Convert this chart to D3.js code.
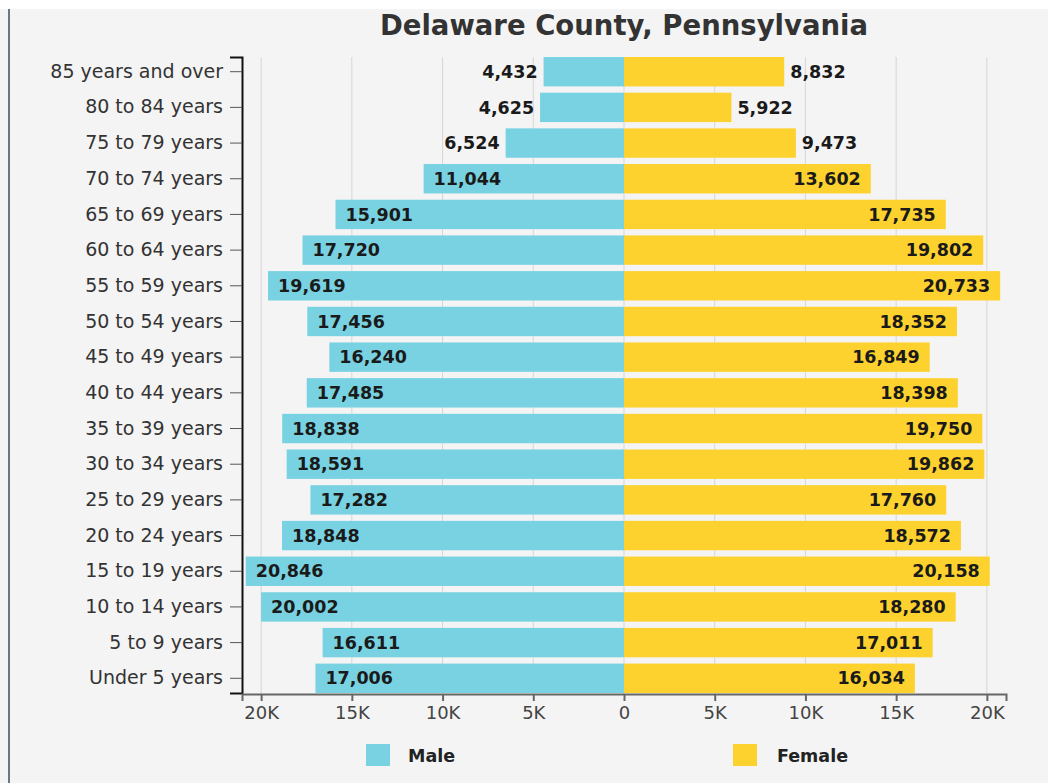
<!DOCTYPE html>
<html>
<head>
<meta charset="utf-8">
<script src="https://cdn.jsdelivr.net/npm/d3@7"></script>
<style>
  html, body { margin: 0; padding: 0; background: #ffffff; }
  svg { display: block; }
</style>
</head>
<body>
<svg id="chart" width="1048" height="783"></svg>
<script>
const ageGroups = ["85 years and over","80 to 84 years","75 to 79 years","70 to 74 years","65 to 69 years","60 to 64 years","55 to 59 years","50 to 54 years","45 to 49 years","40 to 44 years","35 to 39 years","30 to 34 years","25 to 29 years","20 to 24 years","15 to 19 years","10 to 14 years","5 to 9 years","Under 5 years"];
const maleValues = [4432,4625,6524,11044,15901,17720,19619,17456,16240,17485,18838,18591,17282,18848,20846,20002,16611,17006];
const femaleValues = [8832,5922,9473,13602,17735,19802,20733,18352,16849,18398,19750,19862,17760,18572,20158,18280,17011,16034];
const tickValues = [-20000,-15000,-10000,-5000,0,5000,10000,15000,20000];
const tickLabels = ["20K","15K","10K","5K","0","5K","10K","15K","20K"];
const seriesNames = ["Male","Female"];
const titleText = "Delaware County, Pennsylvania";

const svg = d3.select("#chart");
const W = 1048, H = 783;
const colors = { Male: "#78d2e2", Female: "#fdd22e" };
const fontFam = "'DejaVu Sans', sans-serif";

// background
svg.append("rect").attr("x",0).attr("y",9).attr("width",W).attr("height",H-9).attr("fill","#f4f4f4");
svg.append("rect").attr("x",8).attr("y",9).attr("width",2).attr("height",H-9).attr("fill","#6d7680");

const maxV = d3.max(maleValues.concat(femaleValues));
const x = d3.scaleLinear().domain([-maxV*1.01, maxV*1.01]).range([242, 1006]);
const y = d3.scaleBand().domain(ageGroups).range([57, 693]).paddingInner(0.176).paddingOuter(0);

// title
svg.append("text").attr("x", x(0)).attr("y", 35).attr("text-anchor","middle")
  .attr("font-family", fontFam).attr("font-weight","bold").attr("font-size", 27.5)
  .attr("fill","#333").text(titleText);

// gridlines
svg.append("g").selectAll("line").data(tickValues).join("line")
  .attr("x1", d => x(d)).attr("x2", d => x(d))
  .attr("y1", 57).attr("y2", 694)
  .attr("stroke","#d6d6d6").attr("stroke-width",1);

const rows = ageGroups.map((g,i) => ({g, m: maleValues[i], f: femaleValues[i]}));

// bars
svg.append("g").selectAll("rect").data(rows).join("rect")
  .attr("x", d => x(-d.m)).attr("width", d => x(0) - x(-d.m))
  .attr("y", d => y(d.g)).attr("height", y.bandwidth())
  .attr("fill", colors.Male);
svg.append("g").selectAll("rect").data(rows).join("rect")
  .attr("x", x(0)).attr("width", d => x(d.f) - x(0))
  .attr("y", d => y(d.g)).attr("height", y.bandwidth())
  .attr("fill", colors.Female);

const fmt = d3.format(",");
const inside = v => v >= 10000;

// labels
svg.append("g").selectAll("text").data(rows).join("text")
  .attr("x", d => inside(d.m) ? x(-d.m) + 10 : x(-d.m) - 6)
  .attr("text-anchor", d => inside(d.m) ? "start" : "end")
  .attr("y", d => y(d.g) + y.bandwidth()/2).attr("dy","0.35em")
  .attr("font-family", fontFam).attr("font-weight","bold").attr("font-size",17.5)
  .attr("fill","#1a1a1a").text(d => fmt(d.m));
svg.append("g").selectAll("text").data(rows).join("text")
  .attr("x", d => inside(d.f) ? x(d.f) - 10 : x(d.f) + 6)
  .attr("text-anchor", d => inside(d.f) ? "end" : "start")
  .attr("y", d => y(d.g) + y.bandwidth()/2).attr("dy","0.35em")
  .attr("font-family", fontFam).attr("font-weight","bold").attr("font-size",17.5)
  .attr("fill","#1a1a1a").text(d => fmt(d.f));

// y axis
const yAxis = svg.append("g").attr("transform","translate(242,0)")
  .call(d3.axisLeft(y).tickSize(12).tickPadding(7));
yAxis.selectAll("text").attr("font-family", fontFam).attr("font-size",19).attr("fill","#333");
yAxis.selectAll("line").attr("stroke","#555");
yAxis.select(".domain").attr("stroke","#111").attr("stroke-width",2);

// x axis
const xAxis = svg.append("g").attr("transform","translate(0,694)")
  .call(d3.axisBottom(x).tickValues(tickValues).tickFormat((d,i) => tickLabels[i]).tickSize(7).tickPadding(5));
xAxis.selectAll("text").attr("font-family", fontFam).attr("font-size",18).attr("fill","#444");
xAxis.selectAll("line").attr("stroke","#666").attr("stroke-width",2);
xAxis.select(".domain").attr("stroke","#666").attr("stroke-width",2);

// legend
const legendX = [366, 733];
const lg = svg.append("g").selectAll("g").data(seriesNames).join("g")
  .attr("transform", (d,i) => `translate(${legendX[i]},744)`);
lg.append("rect").attr("width",24).attr("height",22).attr("fill", d => colors[d]);
lg.append("text").attr("x", d => d === "Male" ? 42 : 44).attr("y", 18)
  .attr("font-family", fontFam).attr("font-weight","bold").attr("font-size",17.5)
  .attr("fill","#222").text(d => d);
</script>
</body>
</html>
